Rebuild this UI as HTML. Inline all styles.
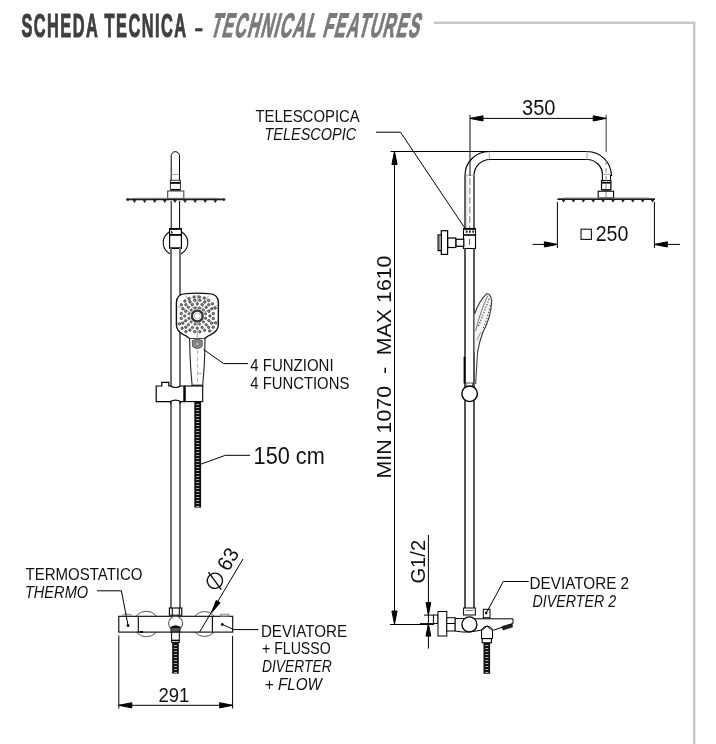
<!DOCTYPE html>
<html><head><meta charset="utf-8">
<style>
html,body{margin:0;padding:0;background:#fff;width:716px;height:744px;overflow:hidden}
svg{position:absolute;left:0;top:0;display:block;will-change:transform}
text{font-family:"Liberation Sans",sans-serif}
</style></head><body>
<svg width="716" height="744" viewBox="0 0 716 744">
<path d="M434 22.8 H694.2 V744" fill="none" stroke="#c8c8ca" stroke-width="2.4"/>
<text x="0" y="0" font-size="34" font-weight="bold" fill="#3e3e40" stroke="#3e3e40" stroke-width="1.1" transform="matrix(0.48,0,0,1,21.4,37.0)" textLength="343" lengthAdjust="spacing">SCHEDA TECNICA</text>
<rect x="195.2" y="28.2" width="7.3" height="3.1" fill="#3e3e40"/>
<text x="0" y="0" font-size="34" font-weight="bold" fill="#7a7a7d" stroke="#7a7a7d" stroke-width="1.1" transform="matrix(0.48,0,-0.26,1,209.8,37.0)" textLength="434" lengthAdjust="spacing">TECHNICAL FEATURES</text>
<g fill="#111">
<text x="255.4" y="121.8" font-size="16.5" textLength="104.4" lengthAdjust="spacingAndGlyphs" >TELESCOPICA</text>
<text x="264.5" y="139.6" font-size="16.5" font-style="italic" textLength="91.7" lengthAdjust="spacingAndGlyphs" >TELESCOPIC</text>
<text x="250.3" y="370.6" font-size="16.5" textLength="83.3" lengthAdjust="spacingAndGlyphs" >4 FUNZIONI</text>
<text x="250.3" y="388.5" font-size="16.5" textLength="99" lengthAdjust="spacingAndGlyphs" >4 FUNCTIONS</text>
<text x="25.6" y="580.1" font-size="16.5" textLength="116.9" lengthAdjust="spacingAndGlyphs" >TERMOSTATICO</text>
<text x="24.9" y="597.5" font-size="16.5" font-style="italic" textLength="63.3" lengthAdjust="spacingAndGlyphs" >THERMO</text>
<text x="260.9" y="636.8" font-size="16.5" textLength="86.1" lengthAdjust="spacingAndGlyphs" >DEVIATORE</text>
<text x="262" y="654.4" font-size="16.5" textLength="68.7" lengthAdjust="spacingAndGlyphs" >+ FLUSSO</text>
<text x="262" y="672.3" font-size="16.5" font-style="italic" textLength="69.7" lengthAdjust="spacingAndGlyphs" >DIVERTER</text>
<text x="264.8" y="689.5" font-size="16.5" font-style="italic" textLength="57.2" lengthAdjust="spacingAndGlyphs" >+ FLOW</text>
<text x="529.6" y="589.3" font-size="16.5" textLength="99.5" lengthAdjust="spacingAndGlyphs" >DEVIATORE 2</text>
<text x="532.6" y="606.8" font-size="16.5" font-style="italic" textLength="83.5" lengthAdjust="spacingAndGlyphs" >DIVERTER 2</text>
<text x="522" y="115" font-size="21.5" textLength="33.5" lengthAdjust="spacingAndGlyphs" >350</text>
<text x="595.7" y="241" font-size="21.5" textLength="32.7" lengthAdjust="spacingAndGlyphs" >250</text>
<text x="253.6" y="463.7" font-size="23" textLength="71.2" lengthAdjust="spacingAndGlyphs" >150 cm</text>
<text x="158.5" y="702" font-size="21" textLength="30.9" lengthAdjust="spacingAndGlyphs" >291</text>
<text x="0" y="0" font-size="20.3" textLength="223" lengthAdjust="spacingAndGlyphs" transform="translate(390.6,478.5) rotate(-90)" xml:space="preserve">MIN 1070  -  MAX 1610</text>
<text x="0" y="0" font-size="20" textLength="43.7" lengthAdjust="spacingAndGlyphs" transform="translate(424.9,583.6) rotate(-90)">G1/2</text>
</g>
<rect x="581" y="229.2" width="10.4" height="10.2" fill="none" stroke="#111" stroke-width="1.1"/>
<g transform="translate(217.4,591.3) rotate(-59.5)"><circle cx="7.8" cy="-7.5" r="7.6" fill="none" stroke="#111" stroke-width="1.4"/><line x1="3.5" y1="2.5" x2="12" y2="-17.5" stroke="#111" stroke-width="1.4"/><text x="22" y="0" font-size="21" fill="#111" textLength="22" lengthAdjust="spacingAndGlyphs">63</text></g>
<g fill="none" stroke="#000" stroke-width="1">
<path d="M171.2,180.5 V155.8 A4.15,4.15 0 0 1 179.5,155.8 V180.5"/>
<line x1="171.5" y1="174.5" x2="179.2" y2="174.5" stroke="#aaa"/>
<rect x="170.4" y="180.3" width="10" height="10" fill="#fff" stroke="#333"/>
<line x1="170.4" y1="182.9" x2="180.4" y2="182.9" stroke-width="1.8"/><line x1="171" y1="189.6" x2="180" y2="189.6" stroke-width="1.3"/>
<rect x="167.7" y="191" width="16.1" height="7.6" fill="#fff" stroke="#444" stroke-width="1.1"/>
<path d="M127,199.4 Q131,198.8 137,198.3 L214,198.3 Q220,198.8 224.5,199.4" stroke="#888" stroke-width="1"/>
<line x1="127" y1="199.6" x2="224.5" y2="199.6" stroke="#1a1a1a" stroke-width="1.5"/>
<ellipse cx="127.8" cy="199.5" rx="1.6" ry="1.2" fill="#222" stroke="none"/>
<ellipse cx="223.8" cy="199.5" rx="1.6" ry="1.2" fill="#222" stroke="none"/>
<path d="M133.1,200.2 L134.5,202.6 L135.9,200.2 Z" fill="#1a1a1a" stroke="#1a1a1a" stroke-width="0.6"/>
<path d="M143.2,200.2 L144.6,202.6 L146.0,200.2 Z" fill="#1a1a1a" stroke="#1a1a1a" stroke-width="0.6"/>
<path d="M153.3,200.2 L154.7,202.6 L156.1,200.2 Z" fill="#1a1a1a" stroke="#1a1a1a" stroke-width="0.6"/>
<path d="M163.4,200.2 L164.8,202.6 L166.2,200.2 Z" fill="#1a1a1a" stroke="#1a1a1a" stroke-width="0.6"/>
<path d="M173.5,200.2 L174.9,202.6 L176.3,200.2 Z" fill="#1a1a1a" stroke="#1a1a1a" stroke-width="0.6"/>
<path d="M183.6,200.2 L185.0,202.6 L186.4,200.2 Z" fill="#1a1a1a" stroke="#1a1a1a" stroke-width="0.6"/>
<path d="M193.7,200.2 L195.1,202.6 L196.5,200.2 Z" fill="#1a1a1a" stroke="#1a1a1a" stroke-width="0.6"/>
<path d="M203.8,200.2 L205.2,202.6 L206.6,200.2 Z" fill="#1a1a1a" stroke="#1a1a1a" stroke-width="0.6"/>
<path d="M213.9,200.2 L215.3,202.6 L216.7,200.2 Z" fill="#1a1a1a" stroke="#1a1a1a" stroke-width="0.6"/>
<line x1="171.2" y1="201" x2="171.2" y2="228"/><line x1="179.6" y1="201" x2="179.6" y2="228"/>
<circle cx="175.5" cy="242.7" r="12.3" stroke="#111" stroke-width="1.1"/>
<rect x="172" y="248" width="7" height="8" fill="#fff" stroke="none"/>
<rect x="169.6" y="228.7" width="11.8" height="19.6" fill="#fff" stroke-width="1.2"/>
<line x1="169.3" y1="228.9" x2="181.7" y2="228.9" stroke-width="1.8"/>
<line x1="169.3" y1="234.9" x2="181.7" y2="234.9" stroke-width="1.8"/>
<line x1="169.3" y1="248.2" x2="181.7" y2="248.2" stroke-width="1.6"/>
<path d="M171.5,231 v2 h1.5" stroke-width="0.9"/>
<line x1="171" y1="248" x2="171" y2="608" stroke="#707070" stroke-width="2"/><line x1="180" y1="248" x2="180" y2="608" stroke="#707070" stroke-width="2"/>
<path d="M176.4,303 Q176.4,293.8 186,293.6 Q197.3,292.6 208.6,293.6 Q218.4,293.8 218.4,303 L218.3,325 Q218.2,331 211,334.6 Q205.6,337 204.6,339 L189.6,339 Q188.8,337 183.4,334.6 Q176.5,331 176.4,325 Z" fill="#fff" stroke-width="1.4" stroke="#111"/>
<line x1="197.3" y1="316" x2="197.3" y2="293.5" stroke="#888" stroke-width="0.7"/>
<line x1="197.3" y1="316" x2="186" y2="295.5" stroke="#888" stroke-width="0.7"/>
<line x1="197.3" y1="316" x2="208.6" y2="295.5" stroke="#888" stroke-width="0.7"/>
<line x1="197.3" y1="316" x2="177.5" y2="306" stroke="#888" stroke-width="0.7"/>
<line x1="197.3" y1="316" x2="217.5" y2="305" stroke="#888" stroke-width="0.7"/>
<line x1="197.3" y1="316" x2="177" y2="324.5" stroke="#888" stroke-width="0.7"/>
<line x1="197.3" y1="316" x2="217.6" y2="324.5" stroke="#888" stroke-width="0.7"/>
<line x1="197.3" y1="316" x2="197.3" y2="339" stroke="#888" stroke-width="0.7"/>
<circle cx="205.6" cy="318.2" r="1.1" fill="#888" stroke="#333" stroke-width="0.7"/>
<circle cx="203.4" cy="321.9" r="1.1" fill="#888" stroke="#333" stroke-width="0.7"/>
<circle cx="199.5" cy="324.1" r="1.1" fill="#888" stroke="#333" stroke-width="0.7"/>
<circle cx="195.1" cy="324.1" r="1.1" fill="#888" stroke="#333" stroke-width="0.7"/>
<circle cx="191.2" cy="322.0" r="1.1" fill="#888" stroke="#333" stroke-width="0.7"/>
<circle cx="189.0" cy="318.2" r="1.1" fill="#888" stroke="#333" stroke-width="0.7"/>
<circle cx="189.0" cy="313.8" r="1.1" fill="#888" stroke="#333" stroke-width="0.7"/>
<circle cx="191.2" cy="310.1" r="1.1" fill="#888" stroke="#333" stroke-width="0.7"/>
<circle cx="195.1" cy="307.9" r="1.1" fill="#888" stroke="#333" stroke-width="0.7"/>
<circle cx="199.5" cy="307.9" r="1.1" fill="#888" stroke="#333" stroke-width="0.7"/>
<circle cx="203.4" cy="310.0" r="1.1" fill="#888" stroke="#333" stroke-width="0.7"/>
<circle cx="205.6" cy="313.8" r="1.1" fill="#888" stroke="#333" stroke-width="0.7"/>
<circle cx="209.9" cy="316.0" r="1.2" fill="#888" stroke="#333" stroke-width="0.7"/>
<circle cx="208.9" cy="320.7" r="1.2" fill="#888" stroke="#333" stroke-width="0.7"/>
<circle cx="206.2" cy="324.7" r="1.2" fill="#888" stroke="#333" stroke-width="0.7"/>
<circle cx="202.1" cy="327.4" r="1.2" fill="#888" stroke="#333" stroke-width="0.7"/>
<circle cx="197.3" cy="328.3" r="1.2" fill="#888" stroke="#333" stroke-width="0.7"/>
<circle cx="192.5" cy="327.4" r="1.2" fill="#888" stroke="#333" stroke-width="0.7"/>
<circle cx="188.4" cy="324.7" r="1.2" fill="#888" stroke="#333" stroke-width="0.7"/>
<circle cx="185.7" cy="320.7" r="1.2" fill="#888" stroke="#333" stroke-width="0.7"/>
<circle cx="184.7" cy="316.0" r="1.2" fill="#888" stroke="#333" stroke-width="0.7"/>
<circle cx="185.7" cy="311.3" r="1.2" fill="#888" stroke="#333" stroke-width="0.7"/>
<circle cx="188.4" cy="307.3" r="1.2" fill="#888" stroke="#333" stroke-width="0.7"/>
<circle cx="192.5" cy="304.6" r="1.2" fill="#888" stroke="#333" stroke-width="0.7"/>
<circle cx="197.3" cy="303.7" r="1.2" fill="#888" stroke="#333" stroke-width="0.7"/>
<circle cx="202.1" cy="304.6" r="1.2" fill="#888" stroke="#333" stroke-width="0.7"/>
<circle cx="206.2" cy="307.3" r="1.2" fill="#888" stroke="#333" stroke-width="0.7"/>
<circle cx="208.9" cy="311.3" r="1.2" fill="#888" stroke="#333" stroke-width="0.7"/>
<circle cx="213.3" cy="318.5" r="1.25" fill="#888" stroke="#333" stroke-width="0.7"/>
<circle cx="211.7" cy="323.2" r="1.25" fill="#888" stroke="#333" stroke-width="0.7"/>
<circle cx="208.7" cy="327.3" r="1.25" fill="#888" stroke="#333" stroke-width="0.7"/>
<circle cx="204.6" cy="330.2" r="1.25" fill="#888" stroke="#333" stroke-width="0.7"/>
<circle cx="199.8" cy="331.7" r="1.25" fill="#888" stroke="#333" stroke-width="0.7"/>
<circle cx="194.7" cy="331.7" r="1.25" fill="#888" stroke="#333" stroke-width="0.7"/>
<circle cx="189.9" cy="330.1" r="1.25" fill="#888" stroke="#333" stroke-width="0.7"/>
<circle cx="185.8" cy="327.2" r="1.25" fill="#888" stroke="#333" stroke-width="0.7"/>
<circle cx="182.8" cy="323.2" r="1.25" fill="#888" stroke="#333" stroke-width="0.7"/>
<circle cx="181.3" cy="318.4" r="1.25" fill="#888" stroke="#333" stroke-width="0.7"/>
<circle cx="181.3" cy="313.5" r="1.25" fill="#888" stroke="#333" stroke-width="0.7"/>
<circle cx="182.9" cy="308.8" r="1.25" fill="#888" stroke="#333" stroke-width="0.7"/>
<circle cx="185.9" cy="304.7" r="1.25" fill="#888" stroke="#333" stroke-width="0.7"/>
<circle cx="190.0" cy="301.8" r="1.25" fill="#888" stroke="#333" stroke-width="0.7"/>
<circle cx="194.8" cy="300.3" r="1.25" fill="#888" stroke="#333" stroke-width="0.7"/>
<circle cx="199.9" cy="300.3" r="1.25" fill="#888" stroke="#333" stroke-width="0.7"/>
<circle cx="204.7" cy="301.9" r="1.25" fill="#888" stroke="#333" stroke-width="0.7"/>
<circle cx="208.8" cy="304.8" r="1.25" fill="#888" stroke="#333" stroke-width="0.7"/>
<circle cx="211.8" cy="308.8" r="1.25" fill="#888" stroke="#333" stroke-width="0.7"/>
<circle cx="213.3" cy="313.6" r="1.25" fill="#888" stroke="#333" stroke-width="0.7"/>
<circle cx="215.6" cy="322.8" r="1.25" fill="#888" stroke="#333" stroke-width="0.7"/>
<circle cx="213.2" cy="327.2" r="1.25" fill="#888" stroke="#333" stroke-width="0.7"/>
<circle cx="209.7" cy="330.9" r="1.25" fill="#888" stroke="#333" stroke-width="0.7"/>
<circle cx="185.9" cy="331.6" r="1.25" fill="#888" stroke="#333" stroke-width="0.7"/>
<circle cx="182.1" cy="328.2" r="1.25" fill="#888" stroke="#333" stroke-width="0.7"/>
<circle cx="179.4" cy="323.9" r="1.25" fill="#888" stroke="#333" stroke-width="0.7"/>
<circle cx="181.4" cy="304.8" r="1.25" fill="#888" stroke="#333" stroke-width="0.7"/>
<circle cx="184.9" cy="301.1" r="1.25" fill="#888" stroke="#333" stroke-width="0.7"/>
<circle cx="189.2" cy="298.5" r="1.25" fill="#888" stroke="#333" stroke-width="0.7"/>
<circle cx="194.1" cy="297.0" r="1.25" fill="#888" stroke="#333" stroke-width="0.7"/>
<circle cx="199.3" cy="296.9" r="1.25" fill="#888" stroke="#333" stroke-width="0.7"/>
<circle cx="204.2" cy="298.0" r="1.25" fill="#888" stroke="#333" stroke-width="0.7"/>
<circle cx="208.7" cy="300.4" r="1.25" fill="#888" stroke="#333" stroke-width="0.7"/>
<circle cx="212.5" cy="303.8" r="1.25" fill="#888" stroke="#333" stroke-width="0.7"/>
<circle cx="215.2" cy="308.1" r="1.25" fill="#888" stroke="#333" stroke-width="0.7"/>
<circle cx="197.3" cy="316" r="5.4" fill="#fff" stroke-width="2.3" stroke="#333"/>
<circle cx="197.3" cy="316" r="3" fill="none" stroke-width="0.6" stroke="#999"/>
<path d="M189.6,339 Q190,365 192.2,386 L202.6,386 Q204.8,365 205,339" fill="#fff" stroke-width="1.1" stroke="#222"/>
<path d="M192.3,340.5 Q197.3,338.2 202.3,340.5 L202.1,346.5 Q197.3,350.5 192.5,346.5 Z" fill="#8a8a8a" stroke="#444" stroke-width="0.8"/>
<circle cx="197.3" cy="344" r="2" fill="#bbb" stroke="#555" stroke-width="0.6"/>
<line x1="191.5" y1="385.3" x2="203.2" y2="385.3" stroke="#555" stroke-width="1.6"/>
<line x1="197.4" y1="350" x2="197.4" y2="385" stroke="#999" stroke-dasharray="4,3" stroke-width="0.8"/>
<line x1="197.5" y1="373.5" x2="202" y2="373.5" stroke="#999" stroke-width="0.7"/>
<path d="M203.6,349.5 L223.5,363.6 H248"/>
<path d="M156.2,386 H161.8 V382.3 H168.8 V386 H170.2 Q175.5,389 180.6,386 H184.4 V401.6 H180.6 Q175.5,398.6 170.2,401.6 H156.2 Z" fill="#fff" stroke-width="1.2"/>
<rect x="184.4" y="386" width="18.3" height="15.6" fill="#fff" stroke-width="1.1"/>
<line x1="184.6" y1="386" x2="184.6" y2="401.6" stroke-width="2.3"/>
<line x1="170.8" y1="401.8" x2="170.8" y2="404" /><line x1="180.2" y1="401.8" x2="180.2" y2="404" />
<rect x="194.3" y="401.6" width="6.8" height="106" fill="#111" stroke="none"/>
<line x1="196.2" y1="404.5" x2="199.2" y2="404.5" stroke="#ddd" stroke-width="0.8"/>
<line x1="196.2" y1="407.5" x2="199.2" y2="407.5" stroke="#ddd" stroke-width="0.8"/>
<line x1="196.2" y1="410.5" x2="199.2" y2="410.5" stroke="#ddd" stroke-width="0.8"/>
<line x1="196.2" y1="413.5" x2="199.2" y2="413.5" stroke="#ddd" stroke-width="0.8"/>
<line x1="196.2" y1="416.5" x2="199.2" y2="416.5" stroke="#ddd" stroke-width="0.8"/>
<line x1="196.2" y1="419.5" x2="199.2" y2="419.5" stroke="#ddd" stroke-width="0.8"/>
<line x1="196.2" y1="422.5" x2="199.2" y2="422.5" stroke="#ddd" stroke-width="0.8"/>
<line x1="196.2" y1="425.5" x2="199.2" y2="425.5" stroke="#ddd" stroke-width="0.8"/>
<line x1="196.2" y1="428.5" x2="199.2" y2="428.5" stroke="#ddd" stroke-width="0.8"/>
<line x1="196.2" y1="431.5" x2="199.2" y2="431.5" stroke="#ddd" stroke-width="0.8"/>
<line x1="196.2" y1="434.5" x2="199.2" y2="434.5" stroke="#ddd" stroke-width="0.8"/>
<line x1="196.2" y1="437.5" x2="199.2" y2="437.5" stroke="#ddd" stroke-width="0.8"/>
<line x1="196.2" y1="440.5" x2="199.2" y2="440.5" stroke="#ddd" stroke-width="0.8"/>
<line x1="196.2" y1="443.5" x2="199.2" y2="443.5" stroke="#ddd" stroke-width="0.8"/>
<line x1="196.2" y1="446.5" x2="199.2" y2="446.5" stroke="#ddd" stroke-width="0.8"/>
<line x1="196.2" y1="449.5" x2="199.2" y2="449.5" stroke="#ddd" stroke-width="0.8"/>
<line x1="196.2" y1="452.5" x2="199.2" y2="452.5" stroke="#ddd" stroke-width="0.8"/>
<line x1="196.2" y1="455.5" x2="199.2" y2="455.5" stroke="#ddd" stroke-width="0.8"/>
<line x1="196.2" y1="458.5" x2="199.2" y2="458.5" stroke="#ddd" stroke-width="0.8"/>
<line x1="196.2" y1="461.5" x2="199.2" y2="461.5" stroke="#ddd" stroke-width="0.8"/>
<line x1="196.2" y1="464.5" x2="199.2" y2="464.5" stroke="#ddd" stroke-width="0.8"/>
<line x1="196.2" y1="467.5" x2="199.2" y2="467.5" stroke="#ddd" stroke-width="0.8"/>
<line x1="196.2" y1="470.5" x2="199.2" y2="470.5" stroke="#ddd" stroke-width="0.8"/>
<line x1="196.2" y1="473.5" x2="199.2" y2="473.5" stroke="#ddd" stroke-width="0.8"/>
<line x1="196.2" y1="476.5" x2="199.2" y2="476.5" stroke="#ddd" stroke-width="0.8"/>
<line x1="196.2" y1="479.5" x2="199.2" y2="479.5" stroke="#ddd" stroke-width="0.8"/>
<line x1="196.2" y1="482.5" x2="199.2" y2="482.5" stroke="#ddd" stroke-width="0.8"/>
<line x1="196.2" y1="485.5" x2="199.2" y2="485.5" stroke="#ddd" stroke-width="0.8"/>
<line x1="196.2" y1="488.5" x2="199.2" y2="488.5" stroke="#ddd" stroke-width="0.8"/>
<line x1="196.2" y1="491.5" x2="199.2" y2="491.5" stroke="#ddd" stroke-width="0.8"/>
<line x1="196.2" y1="494.5" x2="199.2" y2="494.5" stroke="#ddd" stroke-width="0.8"/>
<line x1="196.2" y1="497.5" x2="199.2" y2="497.5" stroke="#ddd" stroke-width="0.8"/>
<line x1="196.2" y1="500.5" x2="199.2" y2="500.5" stroke="#ddd" stroke-width="0.8"/>
<line x1="196.2" y1="503.5" x2="199.2" y2="503.5" stroke="#ddd" stroke-width="0.8"/>
<line x1="196.2" y1="506.5" x2="199.2" y2="506.5" stroke="#ddd" stroke-width="0.8"/>
<path d="M200.8,464.2 L225.4,455.3 H250"/>
<circle cx="146.3" cy="624" r="12.8" stroke="#555"/>
<circle cx="204.5" cy="624" r="12.5" stroke="#555"/>
<rect x="118.8" y="616.3" width="113.9" height="15.8" fill="#fff" stroke-width="1.1"/>
<line x1="138.3" y1="616.3" x2="138.3" y2="632" stroke-width="1.1"/>
<line x1="212.4" y1="616.3" x2="212.4" y2="632" stroke-width="1.1"/>
<path d="M122.4,616.3 L123.4,614.3 H130.6 L131.4,616.3" stroke="#777" stroke-width="0.9"/>
<rect x="220.6" y="614.2" width="8.2" height="2.1" stroke="#777" stroke-width="0.9"/>
<circle cx="128.1" cy="625.6" r="1" fill="#000"/>
<circle cx="222.3" cy="624.4" r="1" fill="#000"/>
<line x1="139.5" y1="632" x2="143" y2="632" stroke-width="2"/>
<rect x="169.4" y="608" width="12.4" height="7.2" fill="#fff" stroke-width="1.1"/>
<line x1="172.3" y1="608" x2="172.3" y2="615"/><line x1="179.3" y1="608" x2="179.3" y2="615"/>
<circle cx="175.6" cy="623.3" r="7" fill="#fff" stroke="#555" stroke-width="1.1"/>
<path d="M171.5,627 Q175.6,624.5 179.7,627 Q175.6,628.6 171.5,627 Z" fill="#222"/>
<rect x="171" y="627.6" width="9" height="4.6" fill="#555" stroke-width="0.8"/>
<rect x="171.6" y="632.2" width="7.7" height="10.2" fill="#fff" stroke-width="1"/>
<line x1="171.6" y1="640.4" x2="179.3" y2="640.4" stroke-width="1.5"/>
<rect x="172.2" y="642.6" width="6.6" height="31" fill="#111" stroke="none"/>
<line x1="174" y1="645.5" x2="177" y2="645.5" stroke="#ddd" stroke-width="0.8"/>
<line x1="174" y1="648.5" x2="177" y2="648.5" stroke="#ddd" stroke-width="0.8"/>
<line x1="174" y1="651.5" x2="177" y2="651.5" stroke="#ddd" stroke-width="0.8"/>
<line x1="174" y1="654.5" x2="177" y2="654.5" stroke="#ddd" stroke-width="0.8"/>
<line x1="174" y1="657.5" x2="177" y2="657.5" stroke="#ddd" stroke-width="0.8"/>
<line x1="174" y1="660.5" x2="177" y2="660.5" stroke="#ddd" stroke-width="0.8"/>
<line x1="174" y1="663.5" x2="177" y2="663.5" stroke="#ddd" stroke-width="0.8"/>
<line x1="174" y1="666.5" x2="177" y2="666.5" stroke="#ddd" stroke-width="0.8"/>
<line x1="174" y1="669.5" x2="177" y2="669.5" stroke="#ddd" stroke-width="0.8"/>
<line x1="174" y1="672.5" x2="177" y2="672.5" stroke="#ddd" stroke-width="0.8"/>
<path d="M97,590.8 H121.4 L128.1,625.6"/>
<path d="M222.3,624.4 L233.8,629.6 H258.5"/>
<line x1="243" y1="559" x2="199.6" y2="632"/>
<path d="M211.50,612.80 L216.20,600.46 L220.15,602.83 Z" fill="#000"/>
<line x1="118.8" y1="635.5" x2="118.8" y2="708.5"/><line x1="232.6" y1="635.8" x2="232.6" y2="708.5"/>
<line x1="118.8" y1="705.3" x2="232.6" y2="705.3"/>
<path d="M118.80,705.30 L131.80,702.70 L131.80,707.90 Z" fill="#000"/>
<path d="M232.60,705.30 L219.60,707.90 L219.60,702.70 Z" fill="#000"/>
<path d="M465,228 V175.5 A24,24 0 0 1 489,151.5 H587 A24.4,24.4 0 0 1 611.4,175.9 V174.4" stroke-width="1.2"/>
<path d="M474,228 V175.5 A16,16 0 0 1 490,159.5 H587 A15.5,15.5 0 0 1 602.5,175 V174.4" stroke-width="1.2"/>
<line x1="489.3" y1="151.5" x2="489.3" y2="159.5" stroke="#aaa"/>
<line x1="465.6" y1="175.2" x2="474.4" y2="175.2" stroke="#aaa"/>
<line x1="587" y1="151.5" x2="587" y2="159.5" stroke="#aaa"/>
<line x1="469.8" y1="178" x2="469.8" y2="228" stroke="#777" stroke-dasharray="7,2.5" stroke-width="1"/>
<line x1="466.8" y1="176" x2="466.8" y2="228" stroke="#bbb" stroke-width="0.7"/>
<line x1="606.2" y1="114.8" x2="606.2" y2="152" stroke="#666" stroke-width="1.3"/>
<line x1="602.5" y1="174.5" x2="610.5" y2="174.5" stroke="#aaa"/>
<line x1="602.4" y1="175" x2="602.4" y2="181" stroke-width="1.1"/><line x1="610.5" y1="175" x2="610.5" y2="181" stroke-width="1.1"/>
<rect x="601.5" y="180.6" width="9.4" height="9.1" fill="#fff" stroke-width="1.2"/>
<line x1="601.5" y1="182.8" x2="610.9" y2="182.8" stroke-width="1.6"/>
<line x1="602" y1="190.4" x2="610.4" y2="190.4" stroke="#555" stroke-width="1.2"/>
<rect x="598.2" y="191.2" width="15.4" height="6.8" fill="#fff" stroke-width="1.1"/>
<line x1="606.1" y1="160" x2="606.1" y2="198" stroke="#888" stroke-dasharray="5,3" stroke-width="1"/>
<path d="M557.5,199 Q561,198.4 566,198 L646,198 Q651,198.4 655,199" stroke="#888" stroke-width="1"/>
<line x1="557.5" y1="199.3" x2="655" y2="199.3" stroke="#1a1a1a" stroke-width="1.5"/>
<path d="M562.2,199.9 L563.5,202.2 L564.8,199.9 Z" fill="#1a1a1a" stroke="#1a1a1a" stroke-width="0.6"/>
<path d="M572.1,199.9 L573.4,202.2 L574.7,199.9 Z" fill="#1a1a1a" stroke="#1a1a1a" stroke-width="0.6"/>
<path d="M582.0,199.9 L583.3,202.2 L584.6,199.9 Z" fill="#1a1a1a" stroke="#1a1a1a" stroke-width="0.6"/>
<path d="M591.9,199.9 L593.2,202.2 L594.5,199.9 Z" fill="#1a1a1a" stroke="#1a1a1a" stroke-width="0.6"/>
<path d="M601.8,199.9 L603.1,202.2 L604.4,199.9 Z" fill="#1a1a1a" stroke="#1a1a1a" stroke-width="0.6"/>
<path d="M611.7,199.9 L613.0,202.2 L614.3,199.9 Z" fill="#1a1a1a" stroke="#1a1a1a" stroke-width="0.6"/>
<path d="M621.6,199.9 L622.9,202.2 L624.2,199.9 Z" fill="#1a1a1a" stroke="#1a1a1a" stroke-width="0.6"/>
<path d="M631.5,199.9 L632.8,202.2 L634.1,199.9 Z" fill="#1a1a1a" stroke="#1a1a1a" stroke-width="0.6"/>
<path d="M641.4,199.9 L642.7,202.2 L644.0,199.9 Z" fill="#1a1a1a" stroke="#1a1a1a" stroke-width="0.6"/>
<path d="M651.3,199.9 L652.6,202.2 L653.9,199.9 Z" fill="#1a1a1a" stroke="#1a1a1a" stroke-width="0.6"/>
<line x1="470" y1="114.8" x2="470" y2="176" stroke="#222" stroke-width="1.1"/>
<line x1="470" y1="118.4" x2="606.2" y2="118.4"/>
<path d="M470.00,118.40 L483.00,115.80 L483.00,121.00 Z" fill="#000"/>
<path d="M606.20,118.40 L593.20,121.00 L593.20,115.80 Z" fill="#000"/>
<line x1="557.4" y1="202" x2="557.4" y2="248"/><line x1="654.4" y1="202" x2="654.4" y2="248"/>
<line x1="532.6" y1="244.4" x2="557.4" y2="244.4"/><line x1="654.4" y1="244.4" x2="680" y2="244.4"/>
<path d="M557.40,244.40 L544.40,247.00 L544.40,241.80 Z" fill="#000"/>
<path d="M654.40,244.40 L667.40,241.80 L667.40,247.00 Z" fill="#000"/>
<line x1="390.5" y1="151.5" x2="489" y2="151.5"/>
<line x1="394.5" y1="151.5" x2="394.5" y2="624"/>
<path d="M394.50,151.50 L397.10,164.50 L391.90,164.50 Z" fill="#000"/>
<path d="M394.50,624.00 L391.90,611.00 L397.10,611.00 Z" fill="#000"/>
<line x1="390" y1="624.5" x2="434" y2="624.5"/>
<path d="M376,132.2 H400.5 L464.8,228"/>
<rect x="463.5" y="228.5" width="12" height="20" fill="#fff" stroke-width="1.1"/>
<line x1="463.5" y1="229" x2="475.5" y2="229" stroke-width="1.6"/>
<line x1="463.5" y1="235" x2="475.5" y2="235" stroke-width="1.6"/>
<path d="M465.8,230.5 h1.8 v2.2 h-1.8 Z M469,230.5 h1.8 v2.2 h-1.8 Z M472.3,230.5 h1.8 v2.2 h-1.8 Z" fill="#222" stroke="none"/>
<line x1="469.6" y1="239" x2="469.6" y2="245" stroke="#555" stroke-width="1"/>
<rect x="455.8" y="239.3" width="8" height="7" fill="#fff" stroke-width="1.2"/>
<rect x="447.6" y="238" width="8.2" height="9.5" fill="#fff" stroke-width="1.2"/>
<rect x="441.3" y="230.7" width="6.3" height="23.7" fill="#fff" stroke-width="1.2"/>
<rect x="438.1" y="234.9" width="3.2" height="15.7" fill="#fff" stroke-width="1.2"/>
<line x1="439.7" y1="235.5" x2="439.7" y2="250" stroke="#777"/>
<line x1="465" y1="248.5" x2="465" y2="608" stroke="#555" stroke-width="2"/><line x1="474" y1="248.5" x2="474" y2="608" stroke="#555" stroke-width="2"/>
<path d="M474.6,314 Q479,301 486.5,293.8 Q490.5,293 491.8,301 Q490.8,318 483,332 Q479.5,341 477.6,352 L474.6,352 Z" fill="#f4f4f4" stroke="none"/>
<path d="M474.6,314 Q479,301 486.5,293.8 Q490.5,293 491.8,301 Q490.8,318 483,332 Q479.5,341 477.6,352" stroke="#333" stroke-width="1.1"/>
<path d="M475.6,331 Q480.5,311 487.8,295.5" stroke="#666" stroke-width="0.9"/>
<path d="M478.5,326 Q484,312 489.5,298" stroke="#444" stroke-width="1.2" stroke-dasharray="1.2,1.6"/>
<path d="M483.5,328 Q488,316 491,303" stroke="#444" stroke-width="1.1" stroke-dasharray="1.2,2"/>
<path d="M477.2,340 Q478.5,336 481,332" stroke="#777" stroke-width="0.8"/>
<path d="M477.6,352 Q476.5,368 475.7,384" stroke="#444" stroke-width="1.1"/>
<path d="M464.5,356.8 V383.5" stroke-width="1.8"/>
<rect x="466" y="383" width="6.5" height="3.5" fill="#fff" stroke="#555"/>
<circle cx="469.6" cy="393.8" r="7.8" fill="#fff" stroke-width="1.4"/>
<line x1="428.4" y1="535" x2="428.4" y2="648.6"/>
<path d="M428.40,615.10 L426.00,602.60 L430.80,602.60 Z" fill="#000"/>
<path d="M428.40,623.60 L430.80,636.10 L426.00,636.10 Z" fill="#000"/>
<line x1="424" y1="615.1" x2="433" y2="615.1"/><line x1="420" y1="623.6" x2="434" y2="623.6"/>
<rect x="433.4" y="615" width="4.6" height="8.5" fill="#fff"/>
<rect x="438" y="611.5" width="8.8" height="24.5" fill="#fff"/>
<rect x="446.8" y="617.7" width="8.4" height="13.3" fill="#fff"/>
<line x1="446.8" y1="623.5" x2="455.2" y2="623.5"/>
<path d="M455.2,618.5 L476,618.8 V618.8 H513 V623.5 L493.7,630.2 Q490,626 487,626 Q484,626 481,630.2 L470,632 Q462,632.5 455.2,631 Z" fill="#fff"/>
<path d="M502,626.5 L512,623.8 L512.5,627 L503,630 Z" fill="#222" stroke-width="0.6"/>
<circle cx="469.4" cy="624.4" r="7.5" fill="#fff" stroke-width="1.3"/>
<rect x="463.6" y="608" width="11.7" height="7" fill="#fff"/>
<line x1="465.5" y1="610.5" x2="473.5" y2="610.5" stroke="#777"/>
<rect x="483.3" y="609.3" width="6.7" height="8.4" fill="#fff"/>
<circle cx="486.2" cy="613" r="0.9" fill="#000"/>
<path d="M486.2,613 L498.8,590 L503.2,581.5 H528.7"/>
<path d="M481.5,630.5 L487,626.2 L492.5,630.5 V638.6 H481.5 Z" fill="#fff"/>
<rect x="482.2" y="638.6" width="9.2" height="4.2" fill="#fff" stroke-width="1.1"/>
<rect x="483.5" y="642.8" width="6.6" height="31" fill="#111" stroke="none"/>
<line x1="485.3" y1="645.5" x2="488.3" y2="645.5" stroke="#ddd" stroke-width="0.8"/>
<line x1="485.3" y1="648.5" x2="488.3" y2="648.5" stroke="#ddd" stroke-width="0.8"/>
<line x1="485.3" y1="651.5" x2="488.3" y2="651.5" stroke="#ddd" stroke-width="0.8"/>
<line x1="485.3" y1="654.5" x2="488.3" y2="654.5" stroke="#ddd" stroke-width="0.8"/>
<line x1="485.3" y1="657.5" x2="488.3" y2="657.5" stroke="#ddd" stroke-width="0.8"/>
<line x1="485.3" y1="660.5" x2="488.3" y2="660.5" stroke="#ddd" stroke-width="0.8"/>
<line x1="485.3" y1="663.5" x2="488.3" y2="663.5" stroke="#ddd" stroke-width="0.8"/>
<line x1="485.3" y1="666.5" x2="488.3" y2="666.5" stroke="#ddd" stroke-width="0.8"/>
<line x1="485.3" y1="669.5" x2="488.3" y2="669.5" stroke="#ddd" stroke-width="0.8"/>
<line x1="485.3" y1="672.5" x2="488.3" y2="672.5" stroke="#ddd" stroke-width="0.8"/>
</g>
</svg>
</body></html>
